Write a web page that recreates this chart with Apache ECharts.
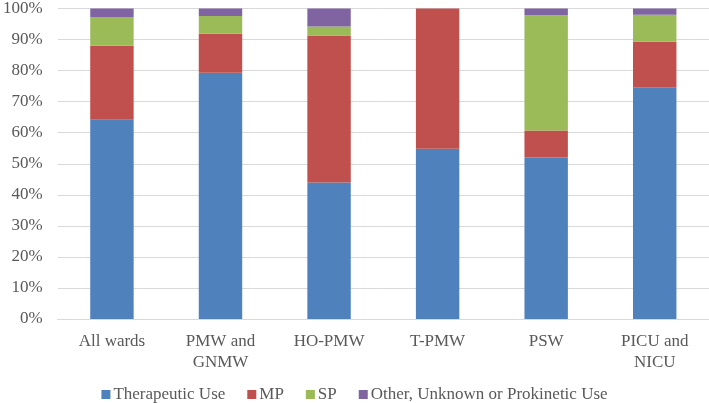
<!DOCTYPE html>
<html>
<head>
<meta charset="utf-8">
<script src="https://cdn.jsdelivr.net/npm/echarts@6/dist/echarts.min.js"></script>
<style>
  html, body { margin: 0; padding: 0; background: #fff; }
  #chart { width: 709px; height: 403px; }
</style>
</head>
<body>
<div id="chart"></div>
<script>
var categories = ["All wards", "PMW and\nGNMW", "HO-PMW", "T-PMW", "PSW", "PICU and\nNICU"];
var therapeutic = [64.2, 79.3, 44.0, 54.8, 52.0, 74.6];
var mp = [23.8, 12.6, 47.3, 45.2, 8.7, 14.7];
var sp = [9.3, 5.7, 2.9, 0, 37.1, 8.7];
var other = [2.7, 2.4, 5.8, 0, 2.2, 2.0];
var seriesNames = ["Therapeutic Use", "MP", "SP", "Other, Unknown or Prokinetic Use"];
var colors = ["#4F81BD", "#C0504D", "#9BBB59", "#8064A2"];

var chart = echarts.init(document.getElementById("chart"));
var font = "Liberation Serif";
var values = [therapeutic, mp, sp, other];

var option = {
    animation: false,
    textStyle: { fontFamily: font },
    color: colors,
    grid: { left: 52, right: 0, top: 6, bottom: 84 },
    legend: {
        top: 386,
        left: "center",
        padding: 0,
        itemWidth: 9,
        itemHeight: 9,
        itemGap: 22,
        icon: "rect",
        textStyle: { fontFamily: font, fontSize: 17, color: "#595959", padding: [0, 0, 0, -2] },
        data: seriesNames
    },
    xAxis: {
        type: "category",
        data: categories,
        axisTick: { show: false },
        axisLine: { lineStyle: { color: "#d9d9d9", width: 1 } },
        axisLabel: { fontFamily: font, fontSize: 17, color: "#595959", margin: 12, lineHeight: 21, interval: 0 }
    },
    yAxis: {
        type: "value",
        min: 0,
        max: 100,
        interval: 10,
        axisLine: { show: false },
        axisTick: { show: false },
        axisLabel: { formatter: "{value}%", fontFamily: font, fontSize: 17, color: "#595959", margin: 15 },
        splitLine: { lineStyle: { color: "#d9d9d9", width: 1 } }
    },
    series: seriesNames.map(function (name, i) {
        return {
            name: name,
            type: "bar",
            stack: "total",
            barWidth: "40%",
            data: values[i]
        };
    })
};
chart.setOption(option);
</script>
</body>
</html>
